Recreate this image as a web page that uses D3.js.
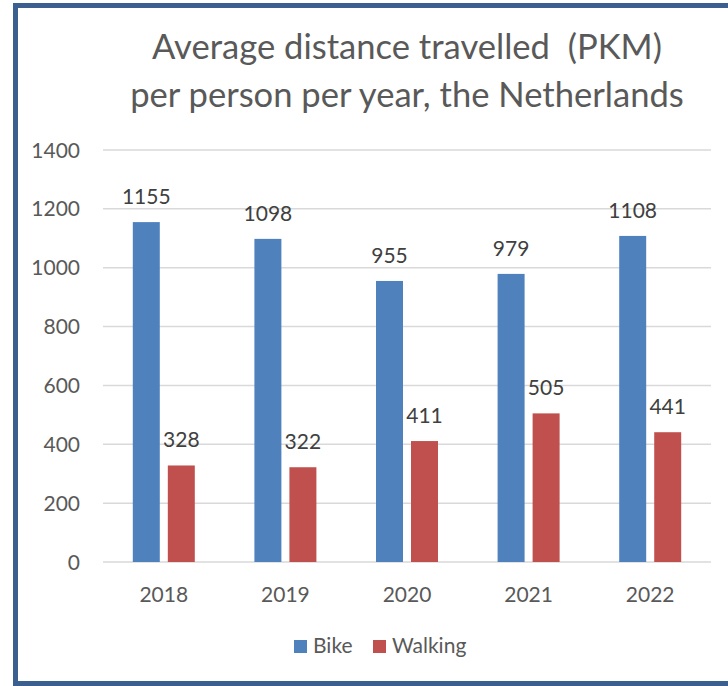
<!DOCTYPE html>
<html>
<head>
<meta charset="utf-8">
<title>Average distance travelled</title>
<script src="https://cdn.jsdelivr.net/npm/d3@7"></script>
<style>
  body { margin: 0; background: #fff; }
  text { font-family: Lato, "Open Sans", sans-serif; }
</style>
</head>
<body>
<script>
// values
var years = ["2018", "2019", "2020", "2021", "2022"];
var series = ["Bike", "Walking"];
var bike = [1155, 1098, 955, 979, 1108];
var walking = [328, 322, 411, 505, 441];
var yTicks = [0, 200, 400, 600, 800, 1000, 1200, 1400];
var colors = ["#4F81BD", "#C0504D"];

var W = 728, H = 686;
var svg = d3.select("body").append("svg")
    .attr("width", W)
    .attr("height", H);

// frame
svg.append("rect")
    .attr("x", 15.5).attr("y", 5.5)
    .attr("width", 740).attr("height", 678)
    .attr("fill", "#fff")
    .attr("stroke", "#3B5F8E")
    .attr("stroke-width", 5);

var plotLeft = 103, plotRight = 711, plotTop = 150, plotBottom = 562;

var x0 = d3.scaleBand().domain(years).range([plotLeft, plotRight]);
var x1 = d3.scaleBand().domain(series).range([29.8, 91.8]).paddingInner(0.229);
var y = d3.scaleLinear().domain([0, 1400]).range([plotBottom, plotTop]);

// gridlines
svg.append("g").selectAll("line").data(yTicks).enter().append("line")
    .attr("x1", plotLeft).attr("x2", plotRight)
    .attr("y1", function(d) { return y(d); })
    .attr("y2", function(d) { return y(d); })
    .attr("stroke", "#D9D9D9")
    .attr("stroke-width", 1.5);

// y tick labels
svg.append("g").selectAll("text").data(yTicks).enter().append("text")
    .attr("x", 80)
    .attr("y", function(d) { return y(d) + 7.5; })
    .attr("text-anchor", "end")
    .attr("font-size", 21)
    .attr("fill", "#595959")
    .text(function(d) { return d; });

// x labels
svg.append("g").selectAll("text").data(years).enter().append("text")
    .attr("x", function(d) { return x0(d) + x0.bandwidth() / 2; })
    .attr("y", 602)
    .attr("text-anchor", "middle")
    .attr("font-size", 21)
    .attr("fill", "#595959")
    .text(function(d) { return d; });

var rows = years.map(function(yr, i) {
  return { year: yr, vals: [
    { s: "Bike", v: bike[i] },
    { s: "Walking", v: walking[i] }
  ] };
});

var groups = svg.append("g").selectAll("g").data(rows).enter().append("g")
    .attr("transform", function(d) { return "translate(" + x0(d.year) + ",0)"; });

groups.selectAll("rect").data(function(d) { return d.vals; }).enter().append("rect")
    .attr("x", function(d) { return x1(d.s); })
    .attr("width", x1.bandwidth())
    .attr("y", function(d) { return y(d.v); })
    .attr("height", function(d) { return plotBottom - y(d.v); })
    .attr("fill", function(d) { return colors[series.indexOf(d.s)]; });

groups.selectAll("text").data(function(d) { return d.vals; }).enter().append("text")
    .attr("x", function(d) { return x1(d.s) + x1.bandwidth() / 2; })
    .attr("y", function(d) { return y(d.v) - 18; })
    .attr("text-anchor", "middle")
    .attr("font-size", 21)
    .attr("fill", "#404040")
    .text(function(d) { return d.v; });

// title
var title = svg.append("text")
    .attr("x", 407)
    .attr("text-anchor", "middle")
    .attr("font-size", 34.6)
    .attr("fill", "#595959");
title.append("tspan").attr("x", 407).attr("y", 59).attr("xml:space", "preserve").text("Average distance travelled  (PKM)");
title.append("tspan").attr("x", 407).attr("y", 107).text("per person per year, the Netherlands");

// legend
var legend = svg.append("g");
var lx = [294, 373];
series.forEach(function(s, i) {
  legend.append("rect")
      .attr("x", lx[i]).attr("y", 640)
      .attr("width", 13).attr("height", 13)
      .attr("fill", colors[i]);
  legend.append("text")
      .attr("x", lx[i] + 19).attr("y", 653)
      .attr("font-size", 21)
      .attr("fill", "#595959")
      .text(s);
});
</script>
</body>
</html>
